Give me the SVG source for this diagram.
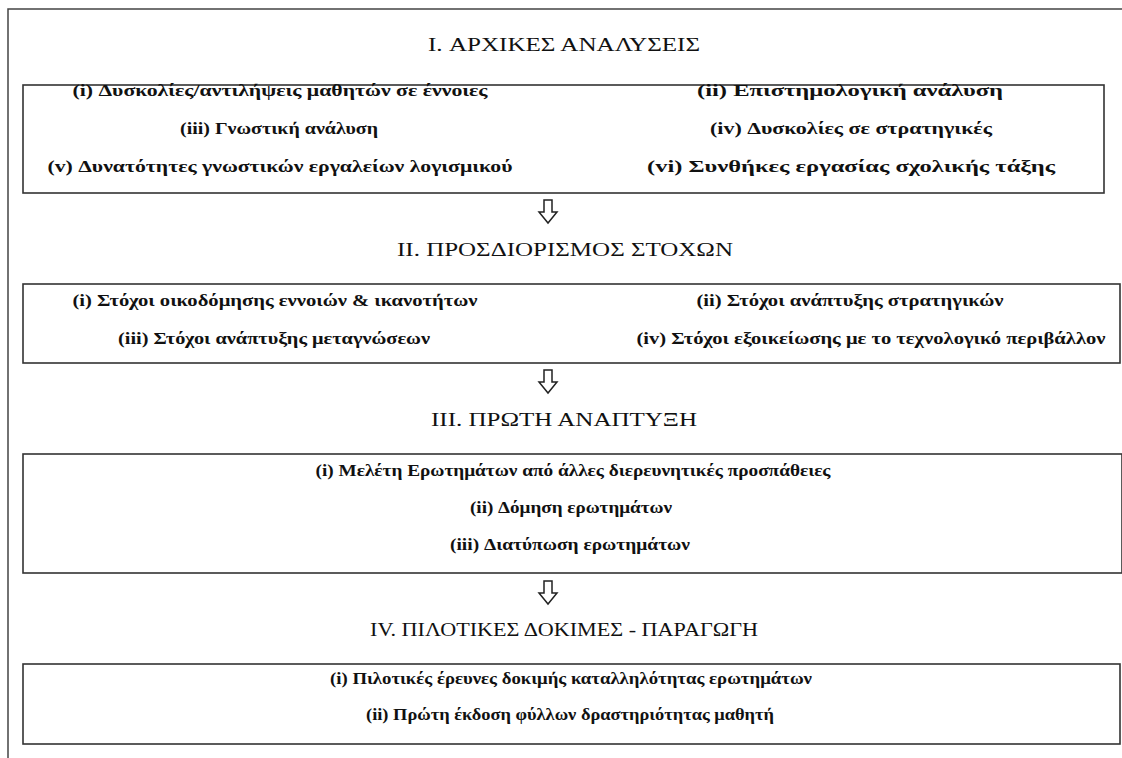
<svg xmlns="http://www.w3.org/2000/svg" width="1122" height="758" viewBox="0 0 1122 758">
  <defs>
    <style>
      .frame { fill: none; stroke: #444; stroke-width: 1.5; }
      .box { fill: #fff; stroke: #333; stroke-width: 1.6; }
      .head { font-family: "Liberation Serif", "Times New Roman", serif; font-size: 19px; fill: #111; text-anchor: middle; }
      .item { font-family: "Liberation Serif", "Times New Roman", serif; font-size: 17px; font-weight: bold; fill: #111; text-anchor: middle; }
      .arrow { fill: #fff; stroke: #222; stroke-width: 1.5; stroke-linejoin: miter; }
    </style>
    <polygon id="down" points="-4,0 4,0 4,12 9,12 0,23 -9,12 -4,12"/>
  </defs>

  <rect width="1122" height="758" fill="#fff"/>

  <!-- page frame (top and left rule) -->
  <polyline class="frame" points="8,758 8,9 1122,9"/>

  <!-- stage I -->
  <g id="stage1">
    <text class="head" x="564" y="51" textLength="272" lengthAdjust="spacingAndGlyphs">I. ΑΡΧΙΚΕΣ ΑΝΑΛΥΣΕΙΣ</text>
    <rect class="box" x="23" y="85" width="1081" height="108"/>
    <text class="item" x="280" y="96" textLength="415" lengthAdjust="spacingAndGlyphs">(i) Δυσκολίες/αντιλήψεις μαθητών σε έννοιες</text>
    <text class="item" x="850" y="96" textLength="306" lengthAdjust="spacingAndGlyphs">(ii) Επιστημολογική ανάλυση</text>
    <text class="item" x="279" y="134" textLength="198" lengthAdjust="spacingAndGlyphs">(iii) Γνωστική ανάλυση</text>
    <text class="item" x="851" y="134" textLength="282" lengthAdjust="spacingAndGlyphs">(iv) Δυσκολίες σε στρατηγικές</text>
    <text class="item" x="280" y="172" textLength="465" lengthAdjust="spacingAndGlyphs">(v) Δυνατότητες γνωστικών εργαλείων λογισμικού</text>
    <text class="item" x="851" y="172" textLength="408" lengthAdjust="spacingAndGlyphs">(vi) Συνθήκες εργασίας σχολικής τάξης</text>
  </g>

  <!-- stage II -->
  <g id="stage2">
    <text class="head" x="565" y="256" textLength="336" lengthAdjust="spacingAndGlyphs">II. ΠΡΟΣΔΙΟΡΙΣΜΟΣ ΣΤΟΧΩΝ</text>
    <rect class="box" x="23" y="284" width="1097" height="79"/>
    <text class="item" x="275" y="306" textLength="405" lengthAdjust="spacingAndGlyphs">(i) Στόχοι οικοδόμησης εννοιών &amp; ικανοτήτων</text>
    <text class="item" x="850" y="306" textLength="307" lengthAdjust="spacingAndGlyphs">(ii) Στόχοι ανάπτυξης στρατηγικών</text>
    <text class="item" x="274" y="344" textLength="312" lengthAdjust="spacingAndGlyphs">(iii) Στόχοι ανάπτυξης μεταγνώσεων</text>
    <text class="item" x="871" y="344" textLength="469" lengthAdjust="spacingAndGlyphs">(iv) Στόχοι εξοικείωσης με το τεχνολογικό περιβάλλον</text>
  </g>

  <!-- stage III -->
  <g id="stage3">
    <text class="head" x="564" y="426" textLength="266" lengthAdjust="spacingAndGlyphs">III. ΠΡΩΤΗ ΑΝΑΠΤΥΞΗ</text>
    <rect class="box" x="23" y="454" width="1099" height="119"/>
    <text class="item" x="573" y="476" textLength="515" lengthAdjust="spacingAndGlyphs">(i) Μελέτη Ερωτημάτων από άλλες διερευνητικές προσπάθειες</text>
    <text class="item" x="571" y="513" textLength="202" lengthAdjust="spacingAndGlyphs">(ii) Δόμηση ερωτημάτων</text>
    <text class="item" x="570" y="550" textLength="240" lengthAdjust="spacingAndGlyphs">(iii) Διατύπωση ερωτημάτων</text>
  </g>

  <!-- stage IV -->
  <g id="stage4">
    <text class="head" x="564" y="636" textLength="388" lengthAdjust="spacingAndGlyphs">IV. ΠΙΛΟΤΙΚΕΣ ΔΟΚΙΜΕΣ - ΠΑΡΑΓΩΓΗ</text>
    <rect class="box" x="23" y="664" width="1097" height="80"/>
    <text class="item" x="571" y="684" textLength="482" lengthAdjust="spacingAndGlyphs">(i) Πιλοτικές έρευνες δοκιμής καταλληλότητας ερωτημάτων</text>
    <text class="item" x="570" y="720" textLength="408" lengthAdjust="spacingAndGlyphs">(ii) Πρώτη έκδοση φύλλων δραστηριότητας μαθητή</text>
  </g>

  <!-- connectors: hollow down arrows between stages -->
  <g id="connectors">
    <use href="#down" class="arrow" x="548" y="200"/>
    <use href="#down" class="arrow" x="548" y="370"/>
    <use href="#down" class="arrow" x="548" y="581"/>
  </g>
</svg>
